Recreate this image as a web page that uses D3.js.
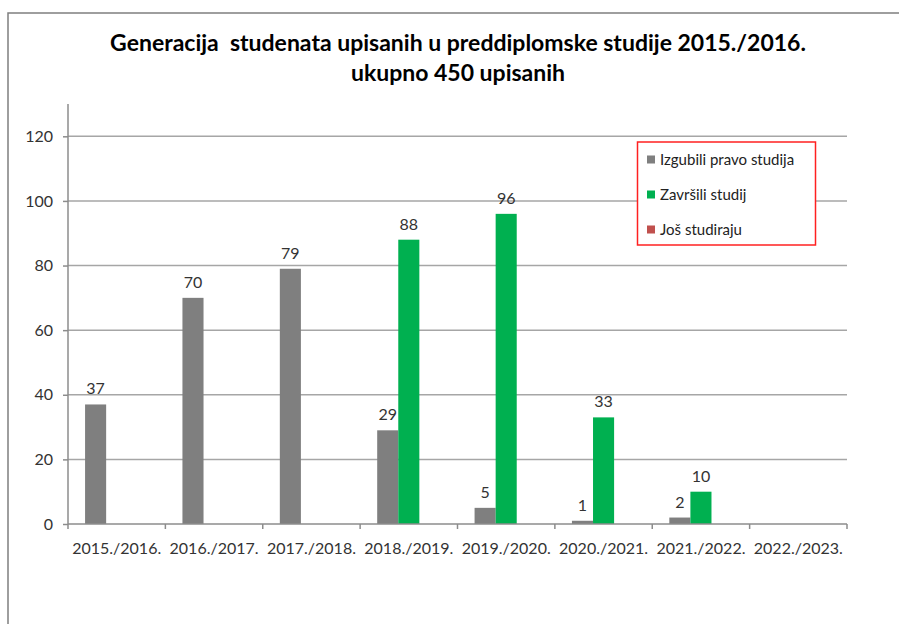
<!DOCTYPE html>
<html>
<head>
<meta charset="utf-8">
<script src="https://cdn.jsdelivr.net/npm/d3@7"></script>
<style>
  html, body { margin: 0; padding: 0; background: #fff; }
  svg text { font-family: Lato, "Open Sans", sans-serif; }
</style>
</head>
<body>
<svg id="chart" width="899" height="624"></svg>
<script>
const categories = ["2015./2016.", "2016./2017.", "2017./2018.", "2018./2019.", "2019./2020.", "2020./2021.", "2021./2022.", "2022./2023."];
const seriesNames = ["Izgubili pravo studija", "Završili studij", "Još studiraju"];
const izgubili = [37, 70, 79, 29, 5, 1, 2, 0];
const zavrsili = [0, 0, 0, 88, 96, 33, 10, 0];
const josStudiraju = [0, 0, 0, 0, 0, 0, 0, 0];
const yTicks = [0, 20, 40, 60, 80, 100, 120];
const titleLines = ["Generacija  studenata upisanih u preddiplomske studije 2015./2016.", "ukupno 450 upisanih"];
const colors = ["#7f7f7f", "#00b050", "#c0504d"];

const seriesValues = [izgubili, zavrsili, josStudiraju];
const svg = d3.select("#chart");

// outer frame
svg.append("path").attr("d", "M8,624 L8,13 L899,13")
  .attr("fill", "none").attr("stroke", "#7f7f7f").attr("stroke-width", 1.5);

const pL = 68, pR = 847, pB = 524, pT = 104;
const x = d3.scaleBand().domain(categories).range([pL, pR]).paddingInner(0).paddingOuter(0);
const inner = d3.scaleBand().domain(d3.range(seriesNames.length)).range([0, x.bandwidth()]).paddingInner(0).paddingOuter(0.81);
const y = d3.scaleLinear().domain([0, 130]).range([pB, pT]);

// gridlines
svg.append("g").selectAll("line").data(yTicks.filter(d => d > 0)).join("line")
  .attr("x1", pL).attr("x2", pR)
  .attr("y1", d => y(d)).attr("y2", d => y(d))
  .attr("stroke", "#a6a6a6").attr("stroke-width", 1.5);

// title
svg.append("g").selectAll("text").data(titleLines).join("text")
  .attr("x", 458).attr("y", (d, i) => 51 + i * 30)
  .attr("text-anchor", "middle")
  .style("white-space", "pre")
  .attr("font-size", 23).attr("font-weight", "bold").attr("fill", "#000")
  .text(d => d);

// bars
const groups = svg.append("g").selectAll("g").data(categories).join("g")
  .attr("transform", d => `translate(${x(d)},0)`);
groups.selectAll("rect")
  .data((c, ci) => seriesValues.map((s, si) => ({ si, v: s[ci] })))
  .join("rect")
  .attr("x", d => inner(d.si)).attr("width", inner.bandwidth())
  .attr("y", d => y(d.v)).attr("height", d => pB - y(d.v))
  .attr("fill", d => colors[d.si]);
groups.selectAll("text")
  .data((c, ci) => seriesValues.map((s, si) => ({ si, v: s[ci] })).filter(d => d.v > 0))
  .join("text")
  .attr("x", d => inner(d.si) + inner.bandwidth() / 2)
  .attr("y", d => y(d.v) - 10)
  .attr("text-anchor", "middle").attr("font-size", 16).attr("fill", "#333")
  .text(d => d.v);

// y axis
const yAxis = d3.axisLeft(y).tickValues(yTicks).tickSize(5).tickPadding(10);
const yg = svg.append("g").attr("transform", `translate(${pL},0)`).call(yAxis);
yg.select(".domain").attr("d", `M0,${pT}V${pB}`).attr("stroke", "#8c8c8c").attr("stroke-width", 1.5);
yg.selectAll(".tick line").attr("stroke", "#8c8c8c").attr("stroke-width", 1.5);
yg.selectAll(".tick text").attr("font-size", 16).attr("fill", "#333").attr("font-family", "Lato, sans-serif");

// x axis
const xg = svg.append("g").attr("transform", `translate(0,${pB})`);
xg.append("line").attr("x1", pL).attr("x2", pR).attr("stroke", "#8c8c8c").attr("stroke-width", 1.5);
xg.selectAll("line.t").data(d3.range(categories.length + 1)).join("line").attr("class", "t")
  .attr("x1", i => pL + i * x.step()).attr("x2", i => pL + i * x.step())
  .attr("y1", 0).attr("y2", 5).attr("stroke", "#8c8c8c").attr("stroke-width", 1.5);
xg.selectAll("text").data(categories).join("text")
  .attr("x", d => x(d) + x.bandwidth() / 2).attr("y", 30)
  .attr("text-anchor", "middle").attr("font-size", 16).attr("fill", "#333")
  .text(d => d);

// legend
const lg = svg.append("g");
lg.append("rect").attr("x", 637.5).attr("y", 142).attr("width", 178).attr("height", 103)
  .attr("fill", "#fff").attr("stroke", "#ff2020").attr("stroke-width", 1.5);
const items = lg.selectAll("g").data(seriesNames).join("g")
  .attr("transform", (d, i) => `translate(647,${159.5 + i * 35})`);
items.append("rect").attr("x", 0).attr("y", -4).attr("width", 8).attr("height", 8)
  .attr("fill", (d, i) => colors[i]);
items.append("text").attr("x", 13).attr("y", 5.5).attr("font-size", 15).attr("fill", "#222")
  .text(d => d);
</script>
</body>
</html>
